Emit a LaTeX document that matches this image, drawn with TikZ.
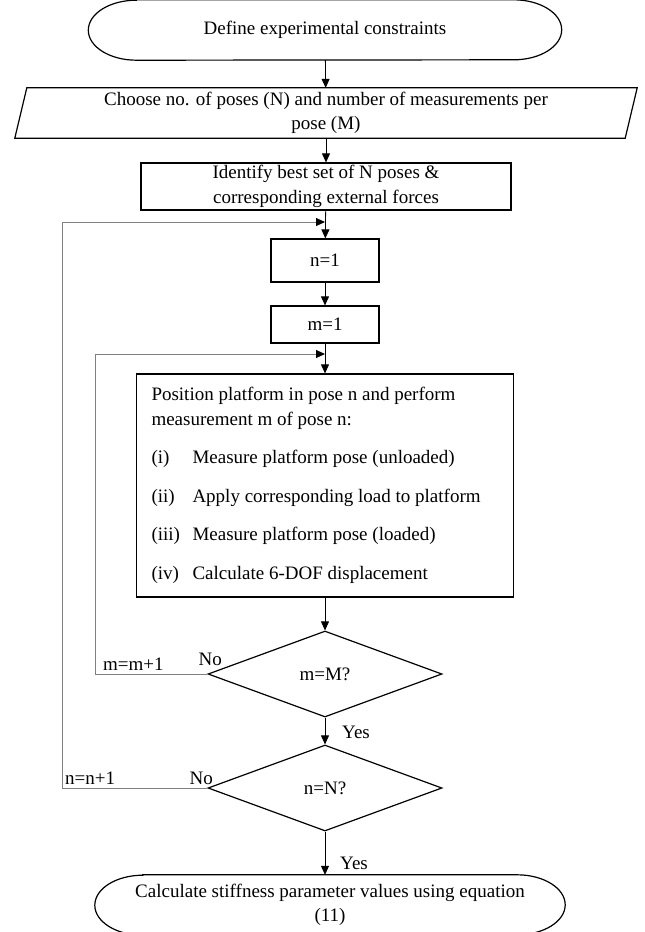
\documentclass[tikz,border=0pt]{standalone}
\usepackage{fontspec}
\setmainfont{Liberation Serif}
\usetikzlibrary{arrows.meta,shapes.geometric}
\definecolor{loopgray}{RGB}{128,128,128}

% outline of a terminator (flat top, elliptic ends)
\newcommand{\termframe}[1]{%
 \draw[line width=1.2pt] ([xshift=48pt]#1.north west) -- ([xshift=-48pt]#1.north east)
 arc[start angle=90,end angle=-90,x radius=48pt,y radius=30pt]
 -- ([xshift=48pt]#1.south west)
 arc[start angle=270,end angle=90,x radius=48pt,y radius=30pt] -- cycle;}

\begin{document}
\begin{tikzpicture}[x=1pt,y=-1pt,
 font=\fontsize{19}{24.5}\selectfont,
 box/.style={draw,line width=1.2pt,inner sep=0pt,align=center},
 term/.style={inner sep=0pt,minimum height=60pt,align=center},
 decision/.style={diamond,draw,line width=1.2pt,inner sep=0pt,
 minimum width=234pt,minimum height=86pt},
 arrow/.style={-{Triangle[length=9pt,width=8pt]},line width=.8pt},
 back/.style={-{Triangle[length=9pt,width=8pt,color=black]},line width=1pt,draw=loopgray},
 lbl/.style={inner sep=0pt}
]
\useasboundingbox (0,0) rectangle (645,932);

\node[term,minimum width=473pt] (start) at (325,30) {Define experimental constraints};
\termframe{start}
\node[inner sep=0pt,minimum width=610pt,minimum height=50pt,align=center] (choose) at (326,113)
 {Choose no. of poses (N) and number of measurements per\\pose (M)};
\draw[line width=1.2pt] ([xshift=6pt]choose.north west) -- ([xshift=6pt]choose.north east)
 -- ([xshift=-6pt]choose.south east) -- ([xshift=-6pt]choose.south west) -- cycle;
\node[box,minimum width=370pt,minimum height=47pt] (ident) at (326,186.5)
 {Identify best set of N poses \&\\corresponding external forces};
\node[box,minimum width=108pt,minimum height=43pt] (n1) at (325,260.5) {n=1};
\node[box,minimum width=108pt,minimum height=37pt] (m1) at (325,324.5) {m=1};
\node[box,minimum width=377pt,minimum height=223pt,text width=347pt,align=flush left] (task) at (325,485.5)
 {Position platform in pose n and perform\\measurement m of pose n:\\[14pt]
 \makebox[41pt][l]{(i)}Measure platform pose (unloaded)\\[14pt]
 \makebox[41pt][l]{(ii)}Apply corresponding load to platform\\[14pt]
 \makebox[41pt][l]{(iii)}Measure platform pose (loaded)\\[14pt]
 \makebox[41pt][l]{(iv)}Calculate 6-DOF displacement};
\node[decision] (dm) at (325,674) {m=M?};
\node[decision] (dn) at (325,788) {n=N?};
\node[term,minimum width=470pt] (stop) at (330,905)
 {Calculate stiffness parameter values using equation\\(11)};
\termframe{stop}

\coordinate (njoin) at (325,222);
\coordinate (mjoin) at (325,354);

\draw[arrow] (start) -- (choose);
\draw[arrow] (choose) -- (ident);
\draw[arrow] (ident) -- (n1);
\draw[arrow] (n1) -- (m1);
\draw[arrow] (m1) -- (task);
\draw[arrow] (task) -- (dm);
\draw[arrow] (dm) -- (dn);
\draw[arrow] (dn.south) -- (dn.south |- stop.north);
\draw[back] (dm.west) -- ++(-112,0) |- (mjoin);
\draw[back] (dn.west) -- ++(-145,0) |- (njoin);

\node[lbl,anchor=base east] (mno) at (222,665) {No};
\node[lbl,anchor=base west] (minc) at (103,670) {m=m+1};
\node[lbl,anchor=base west] (myes) at (342,738) {Yes};
\node[lbl,anchor=base east] (nno) at (213,784) {No};
\node[lbl,anchor=base west] (ninc) at (65,784) {n=n+1};
\node[lbl,anchor=base west] (nyes) at (340,869) {Yes};
\end{tikzpicture}
\end{document}
